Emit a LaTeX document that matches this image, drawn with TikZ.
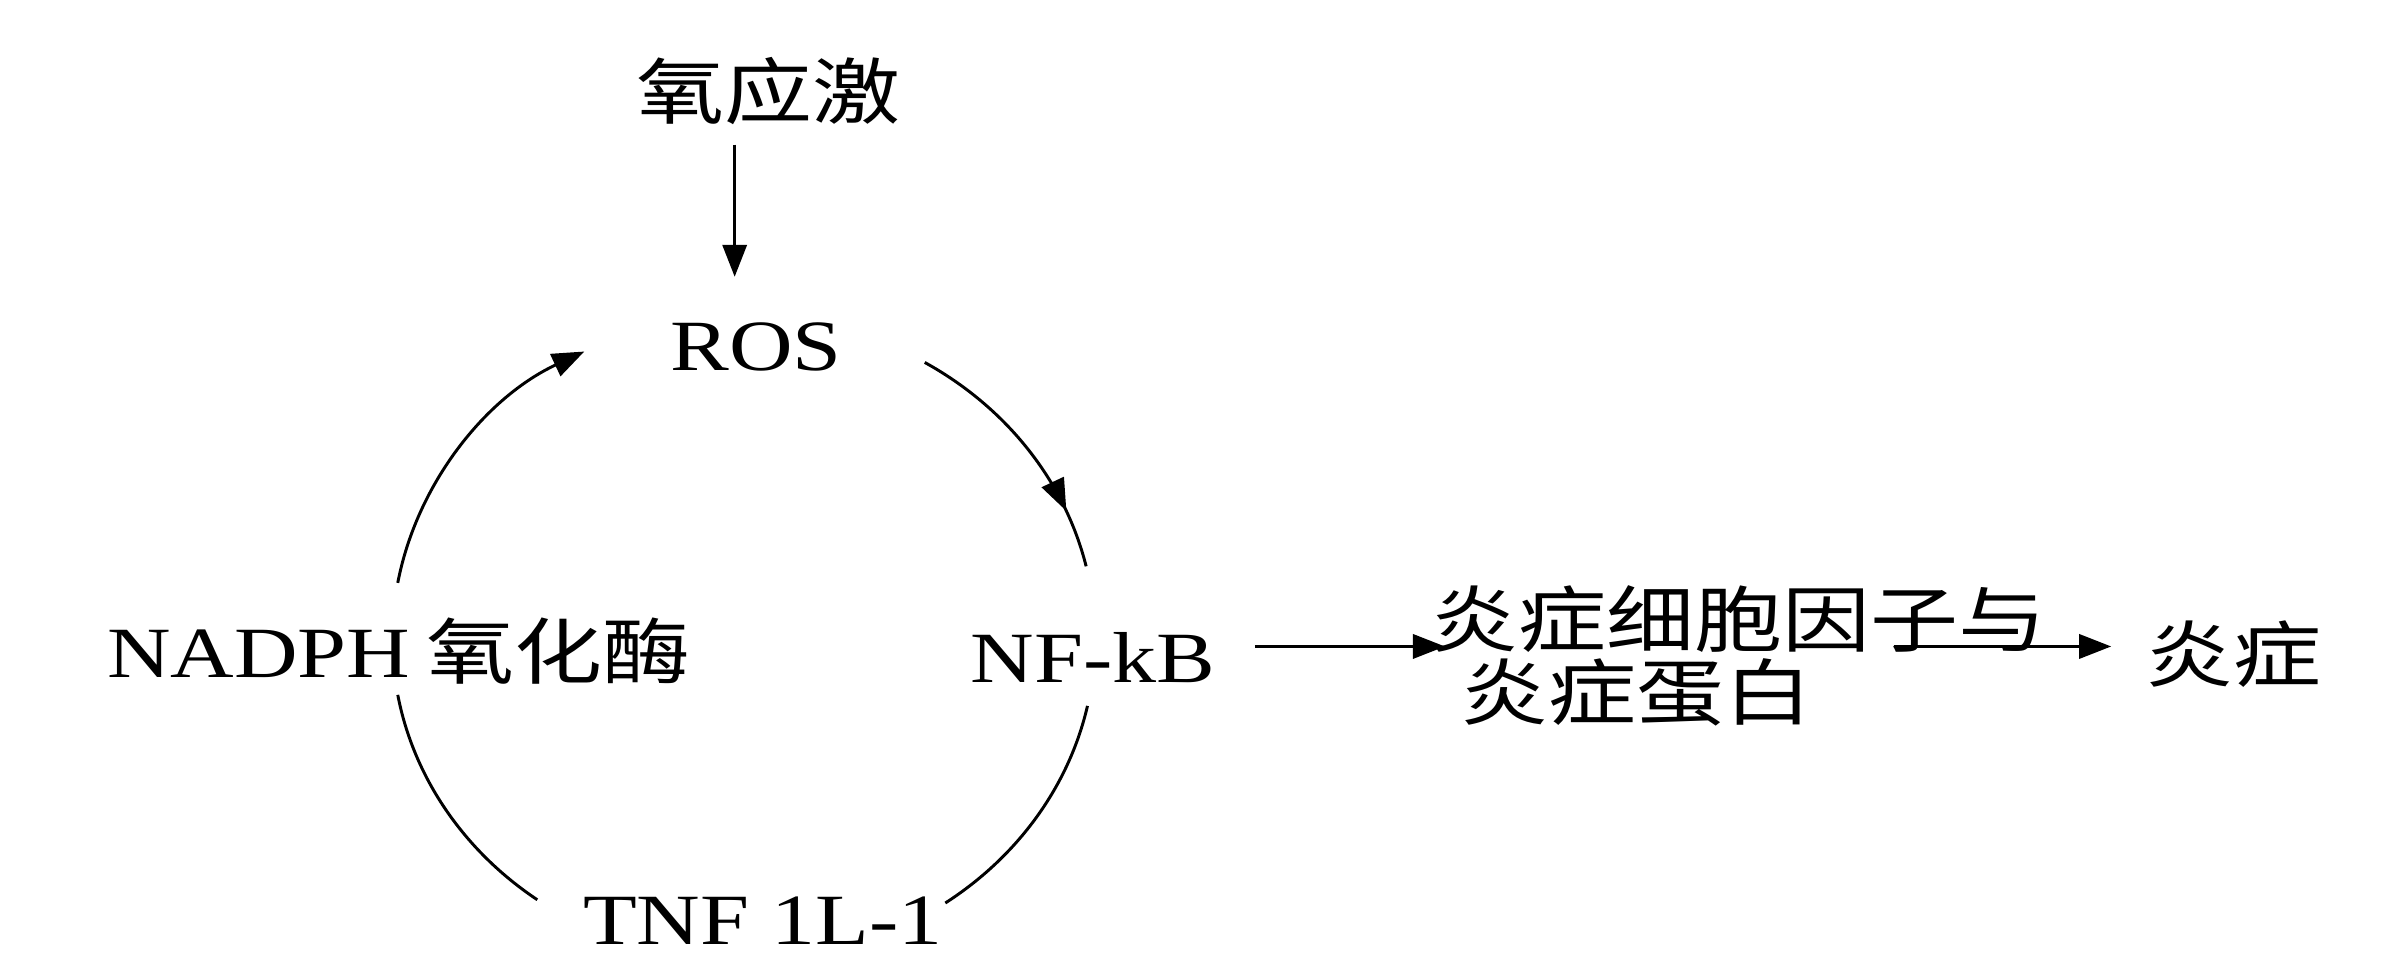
\documentclass[tikz,border=0pt]{standalone}
\usepackage{fontspec}
\setmainfont{Liberation Serif}
\newfontfamily\cjk{Noto Sans CJK SC}
\usetikzlibrary{arrows.meta,decorations.markings}
\newcommand{\widetxt}[1]{\scalebox{1.22}[1]{#1}}
\begin{document}
\begin{tikzpicture}[x=0.02cm,y=-0.02cm,
  lat/.style={font=\fontsize{27}{30}\selectfont,inner sep=0pt},
  zh/.style={font=\cjk\fontsize{27}{29}\selectfont,inner sep=0pt,align=left},
  arr/.style={line width=1.3pt,-{Triangle[length=12pt,width=9pt]}},
  arc/.style={line width=1.1pt}]
\useasboundingbox (0,0) rectangle (1568,643);
\node[zh] (ox) at (505,60) {\widetxt{氧应激}};
\node[lat] (ros) at (497,228) {\widetxt{ROS}};
\node[lat,anchor=west] (nadph) at (70,430) {\widetxt{NADPH}};
\node[zh,anchor=west] (enz) at (280,428) {\widetxt{氧化酶}};
\node[lat,anchor=west] (nfkb) at (638,432) {\widetxt{NF-kB}};
\node[lat,anchor=west] (tnf) at (383,605) {\widetxt{TNF 1L-1}};
\node[zh,anchor=west] (cyt) at (940,407) {\widetxt{炎症细胞因子与}};
\node[zh,anchor=west] (pro) at (960,455) {\widetxt{炎症蛋白}};
\node[zh,anchor=west] (inf) at (1410,430) {\widetxt{炎症}};
\coordinate (a1) at (483,95);
\coordinate (a2) at (483,182);
\draw[arr] (a1) -- (a2);
\coordinate (b1) at (825,425); \coordinate (b2) at (950,425);
\draw[arr] (b1) -- (b2);
\coordinate (c1) at (1245,425); \coordinate (c2) at (1388,425);
\draw[arr] (c1) -- (c2);
\coordinate (o) at (489,420);
\draw[arc,-{Triangle[length=12pt,width=9pt]}] ([shift={(170:231 and -212)}]o) arc[start angle=170,end angle=117,x radius=231,y radius=-212];
\draw[arc,decoration={markings,mark=at position 0.78 with {\arrow{Triangle[length=12pt,width=9pt]}}},postaction=decorate] ([shift={(59:231 and -212)}]o) arc[start angle=59,end angle=13,x radius=231,y radius=-212];
\draw[arc] ([shift={(-170:231 and -212)}]o) arc[start angle=-170,end angle=-126,x radius=231,y radius=-212];
\draw[arc] ([shift={(-12:231 and -212)}]o) arc[start angle=-12,end angle=-55,x radius=231,y radius=-212];
\end{tikzpicture}
\end{document}
